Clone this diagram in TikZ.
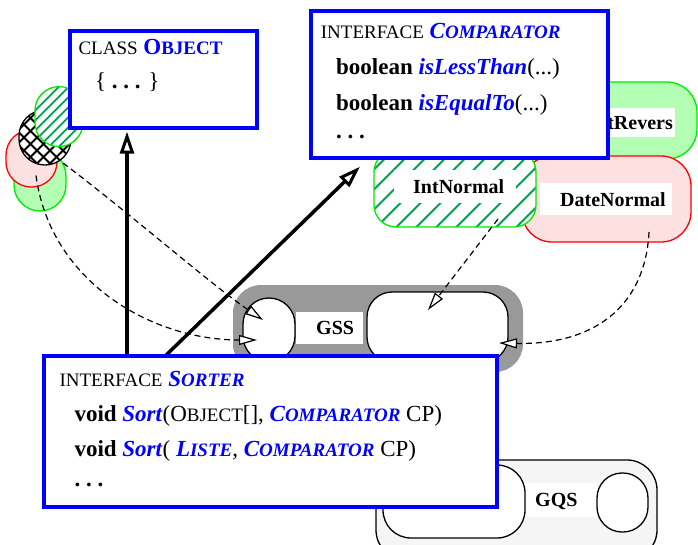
\documentclass[tikz,border=0pt]{standalone}
\usepackage{fontspec}
\setmainfont{Liberation Serif}
\usetikzlibrary{arrows.meta,calc}

\definecolor{lgreen}{RGB}{179,255,179}
\definecolor{bgreen}{RGB}{0,235,0}
\definecolor{hgreen}{RGB}{0,160,80}
\definecolor{lpink}{RGB}{253,225,225}
\definecolor{gssgray}{RGB}{153,153,153}
\definecolor{gqsfill}{RGB}{245,245,245}
\definecolor{ublue}{RGB}{0,0,255}

% reduced capitals used as small caps
\newcommand{\rsc}[1]{{\fontsize{19}{19}\selectfont #1}}
\newcommand{\bluebi}[1]{\textcolor{ublue}{\textbf{\textit{#1}}}}

\tikzset{
  umlbox/.style={rectangle, draw=ublue, line width=4pt, fill=white, inner sep=0pt, outer sep=0pt},
  boxtext/.style={anchor=base west, inner sep=0pt, font=\fontsize{23}{27}\selectfont},
  labeltext/.style={anchor=base west, inner sep=0pt, font=\fontsize{20}{24}\selectfont\bfseries},
  labelbg/.style={rectangle, fill=white, inner sep=0pt, outer sep=0pt},
  blob/.style={rectangle, inner sep=0pt, outer sep=0pt, line width=1.3pt},
  hatchg/.style={draw=hgreen, line width=1.8pt},
  crossl/.style={draw=black, line width=1.8pt},
  dasharrow/.style={line width=1.2pt, dash pattern=on 6pt off 4pt,
    -{Triangle[length=18pt,width=10pt,fill=white,line width=1.2pt]}},
  thickarrow/.style={line width=3.5pt,
    -{Triangle[length=22pt,width=14pt,fill=white,line width=3pt]}}
}

\begin{document}
\begin{tikzpicture}[x=1pt,y=-1pt]
\useasboundingbox (0,0) rectangle (698,544);

% ---- small cluster on the left ----
\node[blob, fill=lgreen, draw=bgreen, rounded corners=26pt,
      minimum width=52pt, minimum height=61pt] (gl) at (40,180.5) {};
\node[blob, fill=lpink, draw=red, rounded corners=25pt,
      minimum width=51pt, minimum height=57pt] (rd) at (31.5,158.5) {};
\node[blob, fill=white, rounded corners=26pt,
      minimum width=52pt, minimum height=55pt] (cross) at (45,137.5) {};
\begin{scope}
  \clip[rounded corners=26pt] (cross.north west) rectangle (cross.south east);
  \foreach \k in {-60,-47,...,60} {
    \draw[crossl] ($(cross.center)+(\k-45,45)$) -- ($(cross.center)+(\k+45,-45)$);
    \draw[crossl] ($(cross.center)+(\k-45,-45)$) -- ($(cross.center)+(\k+45,45)$);
  }
\end{scope}
\draw[blob, draw=black, rounded corners=26pt] (cross.north west) rectangle (cross.south east);

\node[blob, fill=white, rounded corners=24pt,
      minimum width=48pt, minimum height=60pt] (gh) at (59,116.6) {};
\begin{scope}
  \clip[rounded corners=24pt] (gh.north west) rectangle (gh.south east);
  \foreach \k in {-70,-60,...,70}
    \draw[hatchg] ($(gh.center)+(\k-45,45)$) -- ($(gh.center)+(\k+45,-45)$);
\end{scope}
\draw[blob, draw=bgreen, rounded corners=24pt] (gh.north west) rectangle (gh.south east);

% ---- comparator implementations ----
\node[blob, fill=lgreen, draw=bgreen, rounded corners=30pt,
      minimum width=227pt, minimum height=77pt] (intrev) at (583.5,120.5) {};
\node[labelbg, minimum width=115pt, minimum height=29pt] (intrevbg) at (617.5,122.5) {};
\node[labeltext, anchor=base east] (intrevtxt) at (673,129) {IntRevers};

\node[blob, fill=lpink, draw=red, rounded corners=30pt,
      minimum width=169pt, minimum height=86pt] (daten) at (606.5,199) {};
\node[labelbg, minimum width=132pt, minimum height=32pt] (datenbg) at (606,199) {};
\node[labeltext] (datentxt) at (560,206) {DateNormal};

\node[blob, fill=white, rounded corners=22pt,
      minimum width=162pt, minimum height=77pt] (intn) at (455,188.5) {};
\begin{scope}
  \clip[rounded corners=22pt] (intn.north west) rectangle (intn.south east);
  \foreach \k in {-200,-180,...,200}
    \draw[hatchg, line width=2pt] ($(intn.center)+(\k-60,60)$) -- ($(intn.center)+(\k+60,-60)$);
\end{scope}
\draw[blob, draw=bgreen, rounded corners=22pt] (intn.north west) rectangle (intn.south east);
\node[labelbg, minimum width=122pt, minimum height=33pt] (intnbg) at (455,186.5) {};
\node[labeltext] (intntxt) at (413,193) {IntNormal};

% ---- GSS ----
\node[blob, fill=gssgray, rounded corners=28pt,
      minimum width=290pt, minimum height=87pt] (gss) at (378,328.5) {};
\node[labelbg, minimum width=67pt, minimum height=32pt] (gssbg) at (329.5,328) {};
\node[labeltext] (gsstxt) at (316,334) {GSS};
\node[blob, fill=white, draw=black, rounded corners=26pt,
      minimum width=52pt, minimum height=64pt] (gssl) at (269,330) {};
\node[blob, fill=white, draw=black, rounded corners=25pt,
      minimum width=141pt, minimum height=70pt] (gssr) at (437.5,327) {};

% ---- GQS ----
\node[blob, fill=gqsfill, draw=black, rounded corners=30pt,
      minimum width=281pt, minimum height=100pt] (gqs) at (516.5,510) {};
\node[labelbg, minimum width=72pt, minimum height=34pt] (gqsbg) at (561,500) {};
\node[labeltext] (gqstxt) at (535,506) {GQS};
\node[blob, fill=white, draw=black, rounded corners=28pt,
      minimum width=142pt, minimum height=73pt] (gqsl) at (454,501.5) {};
\node[blob, fill=white, draw=black, rounded corners=25pt,
      minimum width=51pt, minimum height=59pt] (gqsr) at (622.5,502.5) {};

% ---- dashed connectors ----
\draw[dasharrow] ($(gl.center)+(-4,-5)$)
  .. controls ($(gl.center)+(10,100)$) and ($(gssl.center)+(-119,10)$) ..
  ($(gssl.center)+(-12,10)$);
\draw[dasharrow] ($(cross.center)+(18,25.5)$)
  .. controls ($(cross.center)+(90,80)$) and ($(gssl.center)+(-60,-47)$) ..
  ($(gssl.center)+(-6,-10)$);
\draw[dasharrow] ($(intn.center)+(43,30.5)$) -- ($(gssr.center)+(-9.5,-17)$);
\draw[dasharrow] ($(daten.center)+(42.5,33)$)
  .. controls ($(daten.center)+(38.5,111)$) and ($(gssr.center)+(152.5,18)$) ..
  ($(gssr.center)+(61.5,16)$);

% ---- boxes ----
\node[umlbox, minimum width=187.2pt, minimum height=96.5pt] (object) at (163.1,79.25) {};
\node[umlbox, minimum width=297.8pt, minimum height=147pt] (comparator) at (459.4,84) {};

% ---- inheritance arrows ----
\coordinate (sorttop) at (43.8,356.2);
\draw[thickarrow] ($(sorttop)+(83.2,0)$) -- ($(object.south west)+(57.5,4.2)$);
\draw[thickarrow] ($(sorttop)+(121.2,0)$) -- ($(comparator.south west)+(49.5,9.2)$);

\node[umlbox, minimum width=453pt, minimum height=150.5pt] (sorter) at (270.3,431.45) {};

% ---- box texts ----
\node[boxtext] (objt1) at (78.3,54.3) {\rsc{CLASS} \textcolor{ublue}{\textbf{O\rsc{BJECT}}}};
\node[boxtext] (objt2) at (95,88.5) {\{ \textbf{.\ .\ .} \}};

\node[boxtext] (cmpt1) at (320.7,38.3) {\rsc{INTERFACE} \bluebi{C\rsc{OMPARATOR}}};
\node[boxtext] (cmpt2) at (336,74) {\textbf{boolean} \bluebi{isLessThan}(...)};
\node[boxtext] (cmpt3) at (336,110) {\textbf{boolean} \bluebi{isEqualTo}(...)};
\node[boxtext] (cmpt4) at (336,138.3) {\textbf{.\ .\ .}};

\node[boxtext] (srtt1) at (59.3,386) {\rsc{INTERFACE} \bluebi{S\rsc{ORTER}}};
\node[boxtext] (srtt2) at (74.3,421.7) {\textbf{void} \bluebi{Sort}(O\rsc{BJECT}[], \bluebi{C\rsc{OMPARATOR}} CP)};
\node[boxtext] (srtt3) at (74.3,456) {\textbf{void} \bluebi{Sort}( \bluebi{L\rsc{ISTE}}, \bluebi{C\rsc{OMPARATOR}} CP)};
\node[boxtext] (srtt4) at (74.3,486.7) {\textbf{.\ .\ .}};

\end{tikzpicture}
\end{document}
